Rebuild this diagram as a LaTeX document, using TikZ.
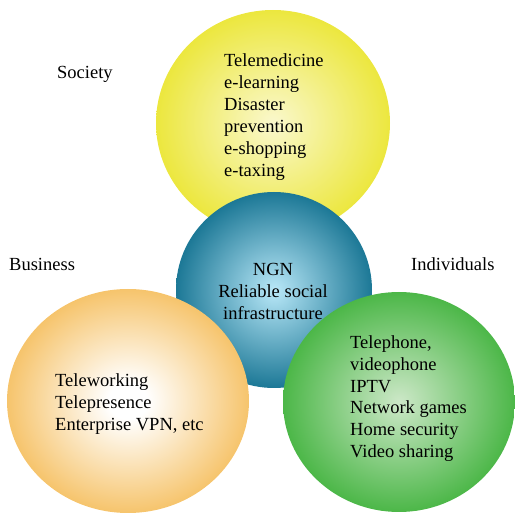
\documentclass[tikz,border=0pt]{standalone}
\usepackage{fontspec}
\setmainfont{Liberation Serif}
\definecolor{socout}{RGB}{236,231,62}
\definecolor{socin}{RGB}{250,248,205}
\definecolor{ngnout}{RGB}{28,120,150}
\definecolor{ngnin}{RGB}{185,232,248}
\definecolor{busout}{RGB}{246,196,108}
\definecolor{busin}{RGB}{255,255,255}
\definecolor{indout}{RGB}{76,183,72}
\definecolor{indin}{RGB}{205,232,200}
\pgfdeclareradialshading{socball}{\pgfpointorigin}{color(0bp)=(socin); color(25bp)=(socout); color(50bp)=(socout)}
\pgfdeclareradialshading{ngnball}{\pgfpointorigin}{color(0bp)=(ngnin); color(25bp)=(ngnout); color(50bp)=(ngnout)}
\pgfdeclareradialshading{busball}{\pgfpointorigin}{color(0bp)=(busin); color(4bp)=(busin); color(25bp)=(busout); color(50bp)=(busout)}
\pgfdeclareradialshading{indball}{\pgfpointorigin}{color(0bp)=(indin); color(25bp)=(indout); color(50bp)=(indout)}
\tikzset{
  listtext/.style={anchor=base west, inner sep=0pt, align=left},
  midtext/.style={anchor=base, inner sep=0pt, align=center}
}
\begin{document}
\begin{tikzpicture}[x=1pt,y=-1pt,font=\fontsize{18.5}{22}\selectfont]
      \useasboundingbox (0,0) rectangle (515,513);

      % Centres of the four circles
      \coordinate (soc) at (273,123);
      \coordinate (ngn) at (274,290);
      \coordinate (bus) at (128,401);
      \coordinate (ind) at (399,402);

      % Society and NGN (text placed at its last baseline)
      \shade[shading=socball] (soc) ellipse [x radius=117, y radius=113];
      \shade[shading=ngnball] (ngn) ellipse [x radius=98, y radius=98];
      \node[listtext] (soclist) at (224,177)
        {Telemedicine\\e-learning\\Disaster\\prevention\\e-shopping\\e-taxing};
      \node[midtext] (ngnlist) at (273,320)
        {NGN\\Reliable social\\infrastructure};

      % Business and individuals
      \shade[shading=busball] (bus) ellipse [x radius=121, y radius=112];
      \shade[shading=indball] (ind) ellipse [x radius=116, y radius=110];
      \node[listtext] (buslist) at (55,431)
        {Teleworking\\Telepresence\\Enterprise VPN, etc};
      \node[listtext] (indlist) at (350,458)
        {Telephone,\\videophone\\IPTV\\Network games\\Home security\\Video sharing};

      % Labeling
      \node[listtext] (soclabel) at (57,79) {Society};
      \node[listtext] (buslabel) at (9,271) {Business};
      \node[listtext] (indlabel) at (411,271) {Individuals};
    \end{tikzpicture}
\end{document}
